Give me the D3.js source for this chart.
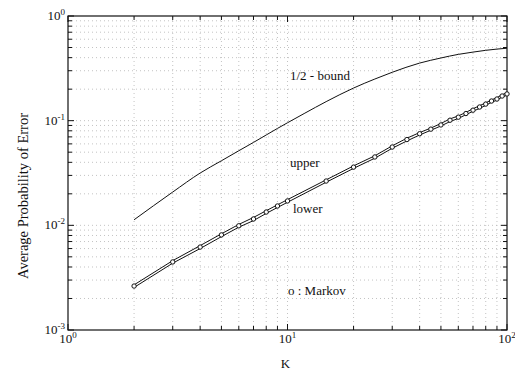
<!DOCTYPE html>
<html>
<head>
<meta charset="utf-8">
<script src="https://cdn.jsdelivr.net/npm/d3@7"></script>
<style>
  body { margin: 0; background: #fff; }
</style>
</head>
<body>
<script>
// data
const kMarkov = [2,3,4,5,6,7,8,9,10,15,20,25,30,35,40,45,50,55,60,65,70,75,80,85,90,95,100];
const upperVals = [0.00270,0.00460,0.0064,0.0083,0.0102,0.0119,0.0138,0.0157,0.0176,0.0272,0.0370,0.0462,0.0575,0.068,0.077,0.085,0.094,0.104,0.111,0.120,0.130,0.139,0.148,0.158,0.166,0.177,0.185];
const lowerVals = [0.00255,0.00435,0.0060,0.0078,0.0096,0.0111,0.0130,0.0148,0.0166,0.0258,0.0350,0.0438,0.0545,0.064,0.073,0.081,0.089,0.098,0.105,0.114,0.123,0.131,0.140,0.150,0.157,0.168,0.175];
const markovVals = [0.00263,0.00447,0.0062,0.0081,0.0099,0.0115,0.0134,0.0153,0.0171,0.0265,0.036,0.045,0.056,0.066,0.075,0.083,0.091,0.101,0.108,0.117,0.126,0.135,0.144,0.154,0.161,0.172,0.180];

const kBound = [2,3,4,5,6,7,8,9,10,12,15,20,25,30,40,50,60,70,80,90,100];
const boundVals = [0.0113,0.0208,0.0316,0.0414,0.0516,0.0620,0.0730,0.0843,0.0955,0.118,0.152,0.205,0.250,0.290,0.355,0.397,0.430,0.452,0.470,0.483,0.492];

const xTickExp = [0,1,2];
const yTickExp = [0,-1,-2,-3];

const W = 515, H = 372;
const m = {left: 68, right: 8, top: 16, bottom: 42};
const serif = "'Liberation Serif', 'DejaVu Serif', serif";

const svg = d3.select("body").append("svg").attr("width", W).attr("height", H)
  .attr("font-family", serif).style("font-family", serif);

const x = d3.scaleLog().domain([1, 100]).range([m.left, W - m.right]);
const y = d3.scaleLog().domain([0.001, 1]).range([H - m.bottom, m.top]);

const x0 = x.range()[0], x1 = x.range()[1];
const y0 = y.range()[0], y1 = y.range()[1];

// minor/major tick values
let xMinor = [], yMinor = [];
for (let e = 0; e < 2; e++) for (let d = 2; d <= 9; d++) xMinor.push(d * Math.pow(10, e));
for (let e = -3; e < 0; e++) for (let d = 2; d <= 9; d++) yMinor.push(d * Math.pow(10, e));
const xMajor = xTickExp.map(e => Math.pow(10, e));
const yMajor = yTickExp.map(e => Math.pow(10, e));

// dotted grid
const grid = svg.append("g").attr("stroke", "#b4b4b4").attr("stroke-width", 0.8).attr("stroke-dasharray", "1,3");
grid.selectAll(".gx").data(xMinor.concat([10])).enter().append("line")
  .attr("x1", d => x(d)).attr("x2", d => x(d)).attr("y1", y0).attr("y2", y1);
grid.selectAll(".gy").data(yMinor.concat([0.1, 0.01])).enter().append("line")
  .attr("y1", d => y(d)).attr("y2", d => y(d)).attr("x1", x0).attr("x2", x1);

// frame
svg.append("rect").attr("x", x0).attr("y", y1).attr("width", x1 - x0).attr("height", y0 - y1)
  .attr("fill", "none").attr("stroke", "#111").attr("stroke-width", 1.2);

// inward ticks on all four sides
const ticks = svg.append("g").attr("stroke", "#111").attr("stroke-width", 1);
function xt(vals, len) {
  vals.forEach(v => {
    ticks.append("line").attr("x1", x(v)).attr("x2", x(v)).attr("y1", y0).attr("y2", y0 - len);
    ticks.append("line").attr("x1", x(v)).attr("x2", x(v)).attr("y1", y1).attr("y2", y1 + len);
  });
}
function yt(vals, len) {
  vals.forEach(v => {
    ticks.append("line").attr("y1", y(v)).attr("y2", y(v)).attr("x1", x0).attr("x2", x0 + len);
    ticks.append("line").attr("y1", y(v)).attr("y2", y(v)).attr("x1", x1).attr("x2", x1 - len);
  });
}
xt(xMinor, 4); xt(xMajor, 6);
yt(yMinor, 4); yt(yMajor, 6);

// tick labels with superscripts
xTickExp.forEach(e => {
  const t = svg.append("text").attr("x", x(Math.pow(10, e))).attr("y", y0 + 12.5)
    .attr("text-anchor", "middle").style("font-size", "13px").attr("fill", "#111");
  t.append("tspan").text("10");
  t.append("tspan").attr("dy", -5).style("font-size", "9px").text(e);
});
yTickExp.forEach(e => {
  const t = svg.append("text").attr("x", x0 - 3).attr("y", y(Math.pow(10, e)) + 4)
    .attr("text-anchor", "end").style("font-size", "13px").attr("fill", "#111");
  t.append("tspan").text("10");
  t.append("tspan").attr("dy", -5).style("font-size", "9px").text(e);
});

// curves
const line = d3.line().x(d => x(d[0])).y(d => y(d[1]));
const smooth = d3.line().x(d => x(d[0])).y(d => y(d[1])).curve(d3.curveMonotoneX);
const curves = svg.append("g").attr("fill", "none").attr("stroke", "#111").attr("stroke-width", 1);
curves.append("path").attr("d", smooth(d3.zip(kBound, boundVals)));
curves.append("path").attr("d", line(d3.zip(kMarkov, upperVals)));
curves.append("path").attr("d", line(d3.zip(kMarkov, lowerVals)));

svg.append("g").selectAll("circle").data(d3.zip(kMarkov, markovVals)).enter().append("circle")
  .attr("cx", d => x(d[0])).attr("cy", d => y(d[1])).attr("r", 2.2)
  .attr("fill", "#fff").attr("stroke", "#111").attr("stroke-width", 1);

// annotations
const notes = [
  {t: "1/2 - bound", x: 290, y: 80},
  {t: "upper", x: 290, y: 167},
  {t: "lower", x: 293, y: 213},
  {t: "o : Markov", x: 288, y: 295}
];
svg.selectAll(".note").data(notes).enter().append("text")
  .attr("x", d => d.x).attr("y", d => d.y).style("font-size", "13px").attr("fill", "#111").text(d => d.t);

// axis titles
svg.append("text").attr("x", (x0 + x1) / 2 - 2).attr("y", 368).attr("text-anchor", "middle")
  .style("font-size", "13px").attr("fill", "#111").text("K");
svg.append("text").attr("transform", "translate(28,196) rotate(-90)").attr("text-anchor", "middle")
  .style("font-size", "14.5px").attr("fill", "#111").text("Average Probability of Error");
</script>
</body>
</html>
